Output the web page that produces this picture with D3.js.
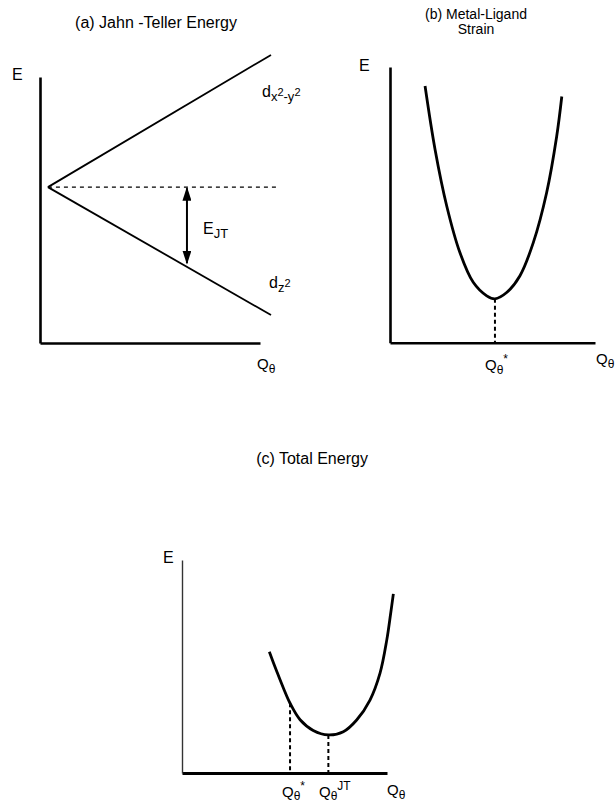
<!DOCTYPE html>
<html>
<head>
<meta charset="utf-8">
<script src="https://cdn.jsdelivr.net/npm/d3@7"></script>
<style>
  html, body { margin: 0; padding: 0; background: #fff; }
  svg { display: block; }
  text { font-family: "Liberation Sans", Arial, Helvetica, sans-serif; fill: #000; }
</style>
</head>
<body>
<svg id="chart" width="616" height="805"></svg>
<script>
// ---------- DATA ----------
// Panel (a): Jahn-Teller splitting (Q in arbitrary units, E in arbitrary units)
const jtQ = [0.36, 10.5];
const jtUpperE = [5.86, 10.83];   // d x2-y2
const jtLowerE = [5.86, 1.05];    // d z2
const jtDegenerateE = 5.86;
const jtDashEndQ = 10.82;
const jtArrowQ = 6.68;
const jtArrowE = [5.86, 3.0];

// Panel (b): metal-ligand strain curve
const strainQ = [1.71, 2.20, 2.77, 3.41, 4.06, 4.72, 5.12, 5.69, 6.34, 6.99, 7.64, 8.13, 8.38];
const strainE = [9.31, 7.00, 4.95, 3.27, 2.19, 1.70, 1.59, 1.82, 2.43, 3.63, 5.44, 7.48, 8.93];
const strainMinQ = 5.12, strainMinE = 1.59;

// Panel (c): total energy curve
const totalQ = [4.26, 4.62, 4.94, 5.27, 5.76, 6.40, 7.14, 7.87, 8.52, 9.17, 9.66, 9.99, 10.18, 10.31];
const totalE = [4.55, 3.82, 3.20, 2.62, 2.00, 1.60, 1.43, 1.55, 1.99, 2.74, 3.75, 5.00, 6.00, 6.73];
const totalStarQ = 5.27, totalStarE = 2.62;
const totalJTQ = 7.14, totalJTE = 1.43;

const titles = ["(a) Jahn -Teller Energy", "(b) Metal-Ligand", "Strain", "(c) Total Energy"];

// ---------- DRAW ----------
const svg = d3.select("#chart");
svg.append("rect").attr("width", 616).attr("height", 805).attr("fill", "#fff");

const defs = svg.append("defs");
defs.append("marker").attr("id", "ah").attr("viewBox", "0 0 10 10")
  .attr("preserveAspectRatio", "none")
  .attr("refX", 9).attr("refY", 5).attr("markerWidth", 7).attr("markerHeight", 4.5)
  .attr("markerUnits", "strokeWidth").attr("orient", "auto-start-reverse")
  .append("path").attr("d", "M0,0 L10,5 L0,10 Z").attr("fill", "#000");

function drawAxes(g, x, y, opts = {}) {
  const ax = g.append("g").attr("transform", `translate(0,${y.range()[0]})`)
    .call(d3.axisBottom(x).tickValues([]).tickSizeOuter(0));
  ax.select(".domain").attr("stroke", "#000").attr("stroke-width", opts.xw || 2.6);
  const ay = g.append("g").attr("transform", `translate(${x.range()[0]},0)`)
    .call(d3.axisLeft(y).tickValues([]).tickSizeOuter(0));
  ay.select(".domain").attr("stroke", opts.yc || "#000").attr("stroke-width", opts.yw || 2.6);
}

function qLabel(g, px, py, sup, subDy = 4) {
  const t = g.append("text").attr("x", px).attr("y", py).attr("font-size", 15);
  t.append("tspan").text("Q");
  t.append("tspan").attr("font-size", 12).attr("dy", subDy).text("θ");
  if (sup) t.append("tspan").attr("font-size", 12).attr("dy", -(subDy + 7)).text(sup);
  return t;
}

// Panel (a)
{
  const g = svg.append("g");
  const x = d3.scaleLinear().domain([0, 10]).range([40, 260]);
  const y = d3.scaleLinear().domain([0, 10]).range([343, 77]);
  drawAxes(g, x, y);
  const line = d3.line().x(d => x(d[0])).y(d => y(d[1]));
  g.append("path").attr("d", line(d3.zip(jtQ, jtUpperE))).attr("stroke", "#000").attr("stroke-width", 1.8).attr("fill", "none");
  g.append("path").attr("d", line(d3.zip(jtQ, jtLowerE))).attr("stroke", "#000").attr("stroke-width", 1.8).attr("fill", "none");
  g.append("path").attr("d", line([[jtQ[0], jtDegenerateE], [jtDashEndQ, jtDegenerateE]]))
    .attr("stroke", "#000").attr("stroke-width", 1.3).attr("stroke-dasharray", "4,4").attr("fill", "none");
  g.append("line").attr("x1", x(jtArrowQ)).attr("x2", x(jtArrowQ))
    .attr("y1", y(jtArrowE[0]) + 1).attr("y2", y(jtArrowE[1]))
    .attr("stroke", "#000").attr("stroke-width", 2)
    .attr("marker-start", "url(#ah)").attr("marker-end", "url(#ah)");
  g.append("text").attr("x", (x.range()[0] + x.range()[1]) / 2 + 6).attr("y", 28)
    .attr("text-anchor", "middle").attr("font-size", 16).text(titles[0]);
  g.append("text").attr("x", 12).attr("y", 80).attr("font-size", 16).text("E");
  const ej = g.append("text").attr("x", x(jtArrowQ) + 16).attr("y", 234).attr("font-size", 16);
  ej.append("tspan").text("E");
  ej.append("tspan").attr("font-size", 13).attr("dy", 4).text("JT");
  const dx = g.append("text").attr("x", 262).attr("y", 97).attr("font-size", 16);
  dx.append("tspan").text("d");
  dx.append("tspan").attr("font-size", 13).attr("dy", 4).text("x");
  dx.append("tspan").attr("font-size", 11).attr("dy", -5).text("2");
  dx.append("tspan").attr("font-size", 13).attr("dy", 5).text("-y");
  dx.append("tspan").attr("font-size", 11).attr("dy", -5).text("2");
  const dz = g.append("text").attr("x", 269).attr("y", 288).attr("font-size", 16);
  dz.append("tspan").text("d");
  dz.append("tspan").attr("font-size", 13).attr("dy", 4).text("z");
  dz.append("tspan").attr("font-size", 11).attr("dy", -5).text("2");
  qLabel(g, 257, 369);
}

// Panel (b)
{
  const g = svg.append("g");
  const x = d3.scaleLinear().domain([0, 10]).range([390, 595]);
  const y = d3.scaleLinear().domain([0, 10]).range([342.7, 67]);
  drawAxes(g, x, y);
  const line = d3.line().x(d => x(d[0])).y(d => y(d[1])).curve(d3.curveCatmullRom);
  g.append("path").attr("d", line(d3.zip(strainQ, strainE))).attr("stroke", "#000").attr("stroke-width", 2.8).attr("fill", "none");
  g.append("line").attr("x1", x(strainMinQ)).attr("x2", x(strainMinQ))
    .attr("y1", y(strainMinE)).attr("y2", y(0))
    .attr("stroke", "#000").attr("stroke-width", 2).attr("stroke-dasharray", "4,3");
  g.append("text").attr("x", 476).attr("y", 19).attr("text-anchor", "middle").attr("font-size", 14).text(titles[1]);
  g.append("text").attr("x", 476).attr("y", 34).attr("text-anchor", "middle").attr("font-size", 14).text(titles[2]);
  g.append("text").attr("x", 359).attr("y", 71).attr("font-size", 16).text("E");
  qLabel(g, 485, 370, "*");
  qLabel(g, 596, 364);
}

// Panel (c)
{
  const g = svg.append("g");
  const x = d3.scaleLinear().domain([0, 10]).range([182, 387]);
  const y = d3.scaleLinear().domain([0, 8]).range([773, 560]);
  drawAxes(g, x, y, { yw: 1.4, yc: "#333", xw: 2.8 });
  const line = d3.line().x(d => x(d[0])).y(d => y(d[1])).curve(d3.curveCatmullRom);
  g.append("path").attr("d", line(d3.zip(totalQ, totalE))).attr("stroke", "#000").attr("stroke-width", 2.8).attr("fill", "none");
  [[totalStarQ, totalStarE], [totalJTQ, totalJTE]].forEach(([q, e]) => {
    g.append("line").attr("x1", x(q)).attr("x2", x(q)).attr("y1", y(e)).attr("y2", y(0))
      .attr("stroke", "#000").attr("stroke-width", 2).attr("stroke-dasharray", "4,3");
  });
  g.append("text").attr("x", 312).attr("y", 464).attr("text-anchor", "middle").attr("font-size", 16).text(titles[3]);
  g.append("text").attr("x", 163).attr("y", 563).attr("font-size", 16).text("E");
  qLabel(g, 282, 797, "*", 3);
  qLabel(g, 319, 797, "JT", 3);
  qLabel(g, 387, 795);
}
</script>
</body>
</html>
